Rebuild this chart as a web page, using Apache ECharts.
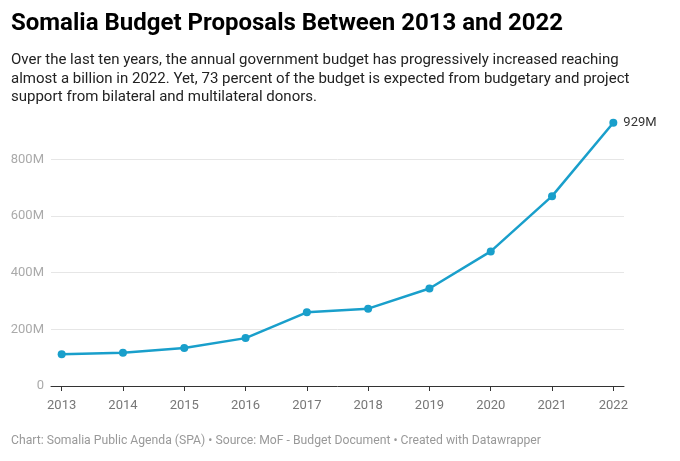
<!DOCTYPE html>
<html><head><meta charset="utf-8">
<script src="https://cdn.jsdelivr.net/npm/echarts@6/dist/echarts.min.js"></script>
<style>html,body{margin:0;padding:0;background:#fff}#c{width:680px;height:461px}</style>
</head><body><div id="c"></div>
<script>
const years = [2013, 2014, 2015, 2016, 2017, 2018, 2019, 2020, 2021, 2022];
const budget = [112, 117, 134, 169, 260, 273, 344, 475, 670, 929];
const yTicks = [0, 200, 400, 600, 800];

const chart = echarts.init(document.getElementById('c'), null, {renderer: 'canvas'});
const font = 'Roboto';
chart.setOption({
  animation: false,
  backgroundColor: '#fff',
  title: [
    {text: 'Somalia Budget Proposals Between 2013 and 2022', left: 6, top: 7,
     textStyle: {fontFamily: font, fontSize: 24, fontWeight: 'bold', color: '#000'}},
    {text: 'Over the last ten years, the annual government budget has progressively increased reaching\nalmost a billion in 2022. Yet, 73 percent of the budget is expected from budgetary and project\nsupport from bilateral and multilateral donors.',
     left: 6, top: 46,
     textStyle: {fontFamily: font, fontSize: 15, fontWeight: 'normal', color: '#222', lineHeight: 18.5}},
    {text: 'Chart: Somalia Public Agenda (SPA) \u2022 Source: MoF - Budget Document \u2022 Created with Datawrapper',
     left: 6, top: 430,
     textStyle: {fontFamily: font, fontSize: 12.2, fontWeight: 'normal', color: '#999'}}
  ],
  grid: {left: 51, right: 56, top: 159.3, bottom: 75, containLabel: false},
  xAxis: {
    type: 'value', min: 2012.826, max: 2022.174,
    axisLine: {show: true, lineStyle: {color: '#333', width: 1}},
    axisTick: {show: true, length: 5, customValues: years, lineStyle: {color: '#333'}},
    axisLabel: {customValues: years, color: '#777', fontFamily: font, fontSize: 13, margin: 13,
                formatter: v => String(Math.round(v))},
    splitLine: {show: false}
  },
  yAxis: {
    type: 'value', min: 0, max: 800, interval: 200,
    axisLine: {show: false}, axisTick: {show: false},
    axisLabel: {color: '#aaa', fontFamily: font, fontSize: 13, margin: 7,
                formatter: v => v === 0 ? '0' : v + 'M'},
    splitLine: {show: true, lineStyle: {color: '#e6e6e6', width: 1}}
  },
  series: [{
    type: 'line', clip: false,
    data: years.map((y, i) => [y, budget[i]]),
    symbol: 'circle', symbolSize: 8,
    lineStyle: {color: '#199fcb', width: 2.5},
    itemStyle: {color: '#199fcb'},
    label: {show: true, position: 'right', distance: 6, fontFamily: font, fontSize: 13, color: '#333',
            formatter: p => p.dataIndex === years.length - 1 ? budget[p.dataIndex] + 'M' : ''}
  }]
});
</script></body></html>
